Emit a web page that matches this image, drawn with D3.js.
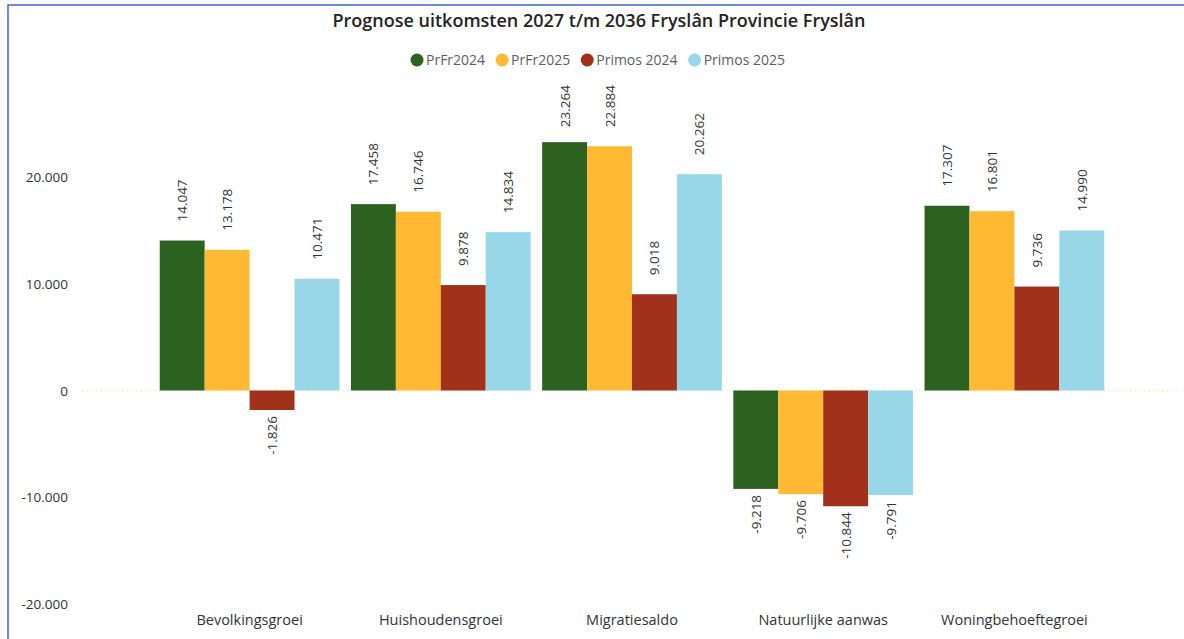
<!DOCTYPE html>
<html>
<head>
<meta charset="utf-8">
<script src="https://cdn.jsdelivr.net/npm/d3@7"></script>
<style>
  body { margin: 0; background: #fff; }
  svg text { font-family: "Segoe UI", "Open Sans", "Noto Sans", sans-serif; }
</style>
</head>
<body>
<svg id="chart" width="1184" height="639"></svg>
<script>
// data
const categories = ["Bevolkingsgroei", "Huishoudensgroei", "Migratiesaldo", "Natuurlijke aanwas", "Woningbehoeftegroei"];
const seriesNames = ["PrFr2024", "PrFr2025", "Primos 2024", "Primos 2025"];
const prfr2024 = [14047, 17458, 23264, -9218, 17307];
const prfr2025 = [13178, 16746, 22884, -9706, 16801];
const primos2024 = [-1826, 9878, 9018, -10844, 9736];
const primos2025 = [10471, 14834, 20262, -9791, 14990];
const yTicks = [-20000, -10000, 0, 10000, 20000];
const colors = ["#2d6120", "#ffb935", "#a1311b", "#98d7e8"];

const values = [prfr2024, prfr2025, primos2024, primos2025];
const rows = categories.map((c, i) => ({ cat: c, vals: values.map(v => v[i]) }));

const svg = d3.select("svg#chart");
// dutch style: dot as thousands separator, plain hyphen for minus
const fmt = v => d3.format(",")(v).replace(/,/g, ".").replace("\u2212", "-");

// frame (right side runs off the picture)
svg.append("rect")
    .attr("x", 8).attr("y", 5)
    .attr("width", 1200).attr("height", 700)
    .attr("fill", "none")
    .attr("stroke", "#3f68c6")
    .attr("stroke-width", 1.5);

// scales
const y = d3.scaleLinear().domain([-20000, 20000]).range([604, 177]);
const x0 = d3.scaleBand().domain(categories).range([154, 1110]).paddingInner(0.06).paddingOuter(0.03);
const x1 = d3.scaleBand().domain(seriesNames).range([0, x0.bandwidth()]);

// title
svg.append("text")
    .attr("x", 599).attr("y", 27)
    .attr("text-anchor", "middle")
    .attr("font-size", 18)
    .attr("font-weight", 600)
    .attr("fill", "#252423")
    .text("Prognose uitkomsten 2027 t/m 2036 Fryslân Provincie Fryslân");

// legend, centred
const legend = svg.append("g");
let lx = 0;
seriesNames.forEach((name, i) => {
    const g = legend.append("g").attr("transform", `translate(${lx},0)`);
    g.append("circle").attr("cx", 6).attr("cy", 0).attr("r", 6.5).attr("fill", colors[i]);
    const t = g.append("text")
        .attr("x", 15).attr("y", 5)
        .attr("font-size", 14)
        .attr("fill", "#605e5c")
        .text(name);
    lx += 15 + t.node().getComputedTextLength() + 11;
});
legend.attr("transform", `translate(${598 - (lx - 11) / 2},60)`);

// y axis labels
svg.append("g").selectAll("text")
    .data(yTicks)
    .join("text")
    .attr("x", 68)
    .attr("y", d => y(d) + 5)
    .attr("text-anchor", "end")
    .attr("font-size", 13.5)
    .attr("fill", "#333")
    .text(d => fmt(d));

// zero line
svg.append("line")
    .attr("x1", 82).attr("x2", 1177)
    .attr("y1", y(0)).attr("y2", y(0))
    .attr("stroke", "#f6e3c8")
    .attr("stroke-width", 1.5)
    .attr("stroke-dasharray", "1.5,3");

// bars
const groups = svg.append("g").selectAll("g")
    .data(rows)
    .join("g")
    .attr("transform", d => `translate(${x0(d.cat)},0)`);

groups.selectAll("rect")
    .data(d => d.vals.map((v, i) => ({ s: seriesNames[i], v, i })))
    .join("rect")
    .attr("x", d => x1(d.s))
    .attr("y", d => Math.min(y(d.v), y(0)))
    .attr("width", x1.bandwidth())
    .attr("height", d => Math.abs(y(d.v) - y(0)))
    .attr("fill", d => colors[d.i]);

// data labels
groups.selectAll("text")
    .data(d => d.vals.map((v, i) => ({ s: seriesNames[i], v, i })))
    .join("text")
    .attr("font-size", 13.5)
    .attr("fill", "#333")
    .text(d => fmt(d.v))
    .each(function(d) {
        const len = this.getComputedTextLength();
        const cx = x1(d.s) + x1.bandwidth() / 2 + 5;
        let ty;
        if (d.v >= 0) {
            ty = y(d.v) - 19;
            if (ty - len < 85) ty = 85 + len;
            d3.select(this).attr("text-anchor", "start");
        } else {
            ty = y(d.v) + 6;
            d3.select(this).attr("text-anchor", "end");
        }
        d3.select(this).attr("transform", `translate(${cx},${ty}) rotate(-90)`);
    });

// category labels
svg.append("g").selectAll("text")
    .data(categories)
    .join("text")
    .attr("x", d => x0(d) + x0.bandwidth() / 2)
    .attr("y", 625)
    .attr("text-anchor", "middle")
    .attr("font-size", 14.5)
    .attr("fill", "#333")
    .text(d => d);
</script>
</body>
</html>
